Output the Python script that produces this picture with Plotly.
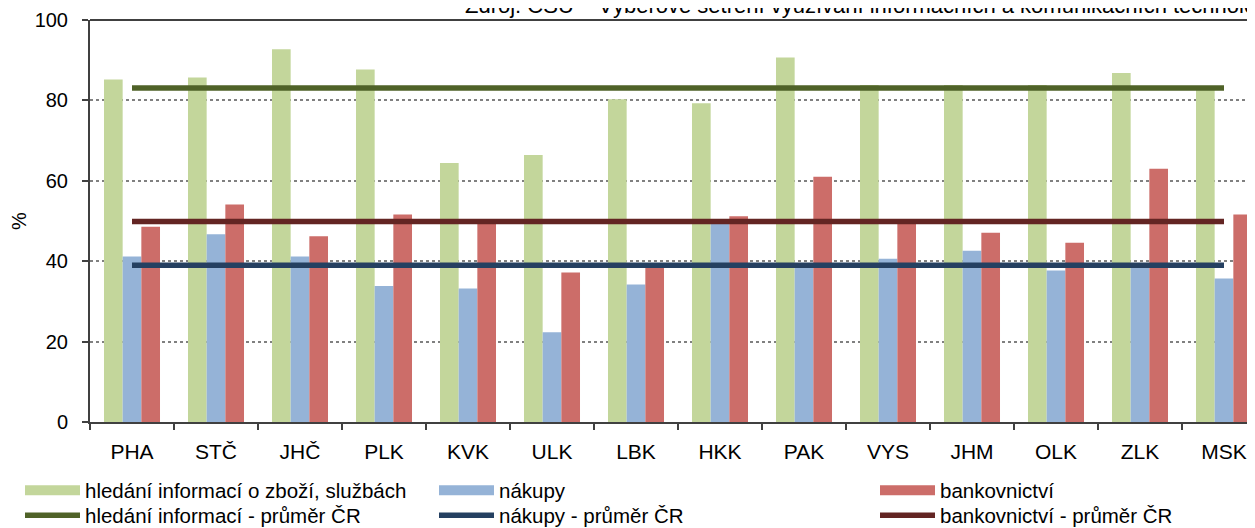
import plotly.graph_objects as go

categories = ["PHA", "STČ", "JHČ", "PLK", "KVK", "ULK", "LBK", "HKK", "PAK", "VYS", "JHM", "OLK", "ZLK", "MSK"]
hledani = [85.2, 85.7, 92.7, 87.7, 64.4, 66.4, 80.3, 79.3, 90.7, 83.8, 83.8, 83.8, 86.8, 83.0]
nakupy = [41.2, 46.7, 41.2, 33.8, 33.2, 22.3, 34.2, 49.5, 39.0, 40.6, 42.6, 37.7, 39.2, 35.7]
bankovnictvi = [48.6, 54.1, 46.2, 51.6, 49.4, 37.2, 39.4, 51.2, 61.0, 49.6, 47.1, 44.6, 63.0, 51.6]
avg_hledani = 83.1
avg_nakupy = 39.0
avg_bankovnictvi = 49.9

names_bar = ["hledání informací o zboží, službách", "nákupy", "bankovnictví"]
names_avg = ["hledání informací - průměr ČR", "nákupy - průměr ČR", "bankovnictví - průměr ČR"]
source_text = "Zdroj: ČSÚ – Výběrové šetření využívání informačních a komunikačních technologií v domácnostech a mezi jednotlivci"

bar_colors = ["#C3D69B", "#95B3D7", "#CC6D69"]
line_colors = ["#4F6228", "#254061", "#632523"]
FONT = "Liberation Sans, Arial, sans-serif"

# page has an 8px body margin, so the figure is offset by 8px
OFF = 8
W, H = 1255 - OFF, 528 - OFF
ML, MR, MT, MB = 90 - OFF, 0, 20 - OFF, 106
PW = W - ML - MR
PH = H - MT - MB
x_max = -0.5 + PW / 84.0

def px_x(p):
    return (p - OFF - ML) / PW

def px_y(p):
    return (H - MB - (p - OFF)) / PH

fig = go.Figure()
for vals, name, col in zip([hledani, nakupy, bankovnictvi], names_bar, bar_colors):
    fig.add_trace(go.Bar(x=categories, y=vals, name=name, marker=dict(color=col, line=dict(width=0)),
                         showlegend=False))

for avg, name, col in zip([avg_hledani, avg_nakupy, avg_bankovnictvi], names_avg, line_colors):
    fig.add_trace(go.Scatter(x=categories, y=[avg] * len(categories), mode="lines", name=name,
                             line=dict(color=col, width=5.5), showlegend=False))

# legend entries, one legend per entry to reproduce the two-row, three-column layout
col_text_x = [85, 499, 940]
row_y = [490.5, 515.5]
IW = 55
leg_layout = {}
idx = 0
for r, (names, cols, width) in enumerate([(names_bar, bar_colors, 10), (names_avg, line_colors, 5.5)]):
    for c, (name, col) in enumerate(zip(names, cols)):
        key = "legend" if idx == 0 else f"legend{idx + 1}"
        fig.add_trace(go.Scatter(x=[None], y=[None], mode="lines", name=name,
                                 line=dict(color=col, width=width), legend=key))
        leg_layout[key] = dict(x=px_x(col_text_x[c] - IW - 10), y=px_y(row_y[r]), xanchor="left",
                               yanchor="middle", bgcolor="rgba(0,0,0,0)", itemwidth=IW,
                               font=dict(family=FONT, size=20.5, color="#000000"))
        idx += 1

fig.update_layout(
    width=W, height=H,
    margin=dict(l=ML, r=MR, t=MT, b=MB, pad=0, autoexpand=False),
    paper_bgcolor="white", plot_bgcolor="white",
    barmode="group", bargap=0.333, bargroupgap=0.0,
    font=dict(family=FONT, size=20, color="#000000"),
    xaxis=dict(range=[-0.5, x_max], showline=True, linecolor="#404040", linewidth=2,
               ticks="outside", tickson="boundaries", ticklen=6, tickcolor="#404040", tickwidth=2,
               showgrid=False, tickfont=dict(size=21), ticklabelstandoff=10, zeroline=False,
               automargin=False),
    yaxis=dict(range=[0, 100], dtick=20, showline=True, linecolor="#404040", linewidth=2,
               ticks="outside", ticklen=6, tickcolor="#404040", tickwidth=2,
               showgrid=True, gridcolor="#808080", griddash="dot", gridwidth=1.5,
               tickfont=dict(size=20), ticklabelstandoff=10, zeroline=False, automargin=False,
               title=dict(text="%", font=dict(size=20), standoff=10)),
    shapes=[dict(type="line", xref="paper", yref="paper", x0=0, x1=1, y0=1, y1=1,
                 line=dict(color="#404040", width=2))],
    annotations=[dict(text=source_text, xref="paper", yref="paper", x=px_x(463), y=px_y(5),
                      xanchor="left", yanchor="middle", showarrow=False,
                      font=dict(family=FONT, size=22, color="#000000"))],
    **leg_layout,
)

fig.write_html("out.html")
